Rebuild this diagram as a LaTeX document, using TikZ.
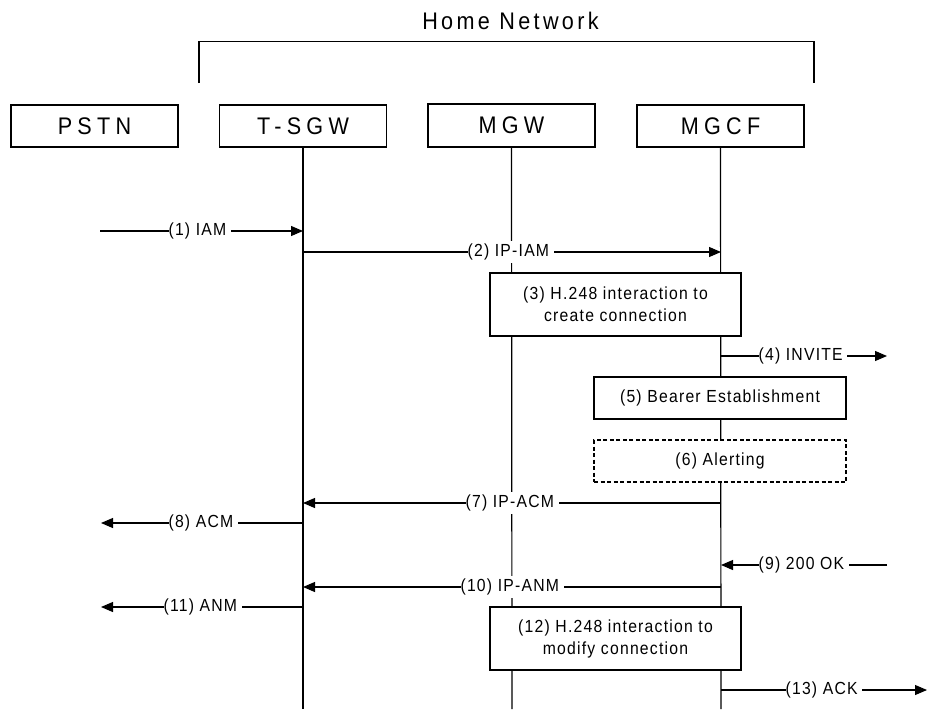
\documentclass[tikz,border=0pt]{standalone}
\usepackage{fontspec}
\setmainfont{Liberation Sans}[FakeStretch=0.9]
\newfontfamily\titlefont{Liberation Sans}[FakeStretch=0.9, LetterSpace=14]
\newfontfamily\boxfont{Liberation Sans}[FakeStretch=0.9, LetterSpace=22]
\newfontfamily\lblfont{Liberation Sans}[FakeStretch=0.9, LetterSpace=7]
\usetikzlibrary{arrows.meta}
\newcommand{\tgap}{\kern4.5pt}
\tikzset{
  ent/.style={draw, fill=white, inner sep=0pt, minimum width=167pt, minimum height=42pt,
    font=\boxfont\fontsize{24}{28}\selectfont},
  stepbox/.style={draw, fill=white, inner sep=0pt, align=center,
    font=\lblfont\fontsize{17.5}{22}\selectfont},
  lbl/.style={fill=white, inner xsep=0pt, inner ysep=3pt, anchor=west,
    font=\lblfont\fontsize{17.5}{22}\selectfont},
  msg/.style={-{Triangle[length=12pt,width=10pt]}},
  life/.style={line width=1.2pt},
}
\begin{document}
\begin{tikzpicture}[x=1pt, y=-1pt, line width=1.1pt]
\useasboundingbox (0,0) rectangle (928,709);

% title and bracket
\node[font=\titlefont\fontsize{24}{28}\selectfont, inner sep=0pt] (home) at (510.5,21.4) {Home Network};
\coordinate (brL) at (199,83);
\coordinate (brR) at (814,83);
\draw (brL) -- (199,41.7) -- (814,41.7) -- (brR);

% entities
\node[ent] (pstn) at (94.5,126) {PSTN};
\node[ent] (tsgw) at (303,126) {T-SGW};
\node[ent, minimum height=43pt] (mgw) at (511.5,125.5) {\raisebox{1pt}{MGW}};
\node[ent] (mgcf) at (720.5,126) {MGCF};

% lifelines
\coordinate (tsgwEnd) at (303,709);
\coordinate (mgwEnd) at (512,709);
\coordinate (mgcfEnd) at (721,709);
\draw[life] (tsgw.south) -- (tsgwEnd);
\draw[life] (mgw.south) -- (mgwEnd);
\draw[life] (mgcf.south) -- (mgcfEnd);

% free ends
\coordinate (in1) at (100,231);
\coordinate (out4) at (887,356);
\coordinate (out8) at (101,523);
\coordinate (in9) at (887,565);
\coordinate (out11) at (101,607);
\coordinate (out13) at (927,690);
\coordinate (y2) at (0,252);
\coordinate (y7) at (0,503);
\coordinate (y10) at (0,587);

% messages
\draw[msg] (in1) -- (in1 -| tsgwEnd);
\node[lbl] (l1) at (168,231) {(1) IAM\tgap};

\draw[msg] (y2 -| tsgwEnd) -- (y2 -| mgcfEnd);
\node[lbl] (l2) at (467,252) {(2) IP-IAM\tgap};

\draw[msg] (out4 -| mgcfEnd) -- (out4);
\node[lbl] (l4) at (758,356) {(4) INVITE\tgap};

\draw[msg] (y7 -| mgcfEnd) -- (y7 -| tsgwEnd);
\node[lbl] (l7) at (465,503) {(7) IP-ACM\tgap};

\draw[msg] (out8 -| tsgwEnd) -- (out8);
\node[lbl] (l8) at (168,523) {(8) ACM\tgap};

\draw[msg] (in9) -- (in9 -| mgcfEnd);
\node[lbl] (l9) at (758,565) {(9) 200 OK\tgap};

\draw[msg] (y10 -| mgcfEnd) -- (y10 -| tsgwEnd);
\node[lbl] (l10) at (460,587) {(10) IP-ANM\tgap};

\draw[msg] (out11 -| tsgwEnd) -- (out11);
\node[lbl] (l11) at (163,607) {(11) ANM\tgap};

\draw[msg] (out13 -| mgcfEnd) -- (out13);
\node[lbl] (l13) at (785,690) {(13) ACK\tgap};

% step boxes
\node[stepbox, minimum width=251pt, minimum height=63pt] (s3) at (615.5,304.5)
  {(3) H.248 interaction to\\create connection};
\node[stepbox, minimum width=252pt, minimum height=42pt] (s5) at (720,398)
  {(5) Bearer Establishment};
\node[stepbox, dash pattern=on 4pt off 2.5pt, minimum width=252pt, minimum height=42pt] (s6) at (720,461)
  {(6) Alerting};
\node[stepbox, minimum width=251pt, minimum height=63pt] (s12) at (615.5,638.5)
  {(12) H.248 interaction to\\modify connection};
\end{tikzpicture}
\end{document}
